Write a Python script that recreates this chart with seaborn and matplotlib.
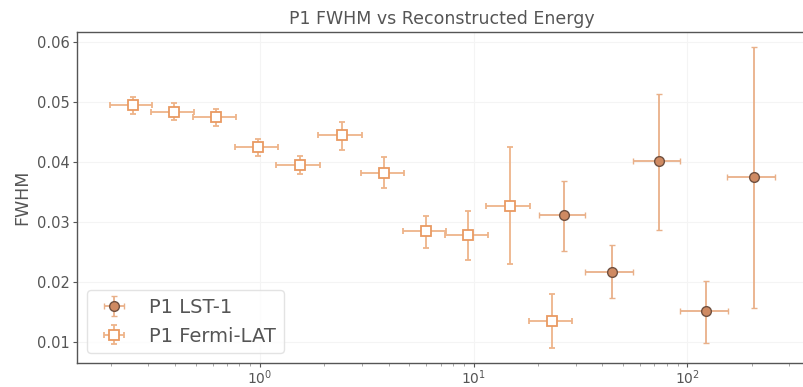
import numpy as np
import pandas as pd
import matplotlib
matplotlib.use("Agg")
import matplotlib.pyplot as plt
import seaborn as sns

# Fermi-LAT
fermi_e = [0.253, 0.395, 0.624, 0.98, 1.54, 2.41, 3.81, 5.99, 9.42, 14.8, 23.2]
fermi_elo = [0.198, 0.309, 0.486, 0.761, 1.19, 1.87, 2.96, 4.66, 7.3, 11.4, 18.1]
fermi_ehi = [0.312, 0.49, 0.772, 1.21, 1.9, 2.99, 4.7, 7.4, 11.6, 18.3, 28.8]
fermi_w = [0.0495, 0.0484, 0.0476, 0.0425, 0.0396, 0.0445, 0.0382, 0.0285, 0.0278, 0.0327, 0.0135]
fermi_wlo = [0.0481, 0.0471, 0.0461, 0.0411, 0.0381, 0.0421, 0.0357, 0.0257, 0.0237, 0.0230, 0.0090]
fermi_whi = [0.0509, 0.0498, 0.0489, 0.0438, 0.0411, 0.0467, 0.0408, 0.0310, 0.0318, 0.0425, 0.0180]

# LST-1
lst_e = [26.4, 44.3, 73.7, 122.7, 204.6]
lst_elo = [20.1, 33.2, 55.5, 92.0, 154.0]
lst_ehi = [33.3, 55.5, 92.4, 154.8, 256.0]
lst_w = [0.0311, 0.0217, 0.0402, 0.0152, 0.0375]
lst_wlo = [0.0251, 0.0174, 0.0286, 0.0098, 0.0156]
lst_whi = [0.0368, 0.0261, 0.0513, 0.0202, 0.0592]

labels = ["P1 LST-1", "P1 Fermi-LAT"]

sns.set_theme(style="whitegrid")
plt.rcParams['font.family'] = ['DejaVu Sans']
txt = "#555555"

fig = plt.figure(figsize=(8.04, 3.87), dpi=100)
ax = fig.add_axes([77/804, 1-363/387, 1.003 - 77/804, (363-32)/387])

def err(v, lo, hi):
    v = np.array(v); return np.vstack([v - np.array(lo), np.array(hi) - v])

ax.errorbar(lst_e, lst_w, xerr=err(lst_e, lst_elo, lst_ehi), yerr=err(lst_w, lst_wlo, lst_whi),
            fmt='o', ms=7, mfc="#cf8a62", mec="#6f5040", mew=1.0, ecolor="#e9b089",
            elinewidth=1.3, capsize=2.5, capthick=1.3, label=labels[0], zorder=3)
ax.errorbar(fermi_e, fermi_w, xerr=err(fermi_e, fermi_elo, fermi_ehi), yerr=err(fermi_w, fermi_wlo, fermi_whi),
            fmt='s', ms=6.5, mfc="white", mec="#e99a62", mew=1.3, ecolor="#eeb48a",
            elinewidth=1.3, capsize=2, capthick=1.3, label=labels[1], zorder=3)

ax.set_xscale('log')
ax.set_xlim(0.139, 360.7)
ax.set_ylim(0.0065, 0.0617)
ax.set_yticks([0.01, 0.02, 0.03, 0.04, 0.05, 0.06])
ax.set_title("P1 FWHM vs Reconstructed Energy", color=txt, fontsize=12.5, pad=6)
ax.set_ylabel("FWHM", color=txt, fontsize=12.5)
ax.grid(True, which='major', color="#f4f4f4", lw=0.8)
ax.set_facecolor("white")
for s in ['left', 'bottom', 'top']:
    ax.spines[s].set_color("#555555")
    ax.spines[s].set_linewidth(1.0)
ax.spines['right'].set_visible(False)
ax.tick_params(axis='y', which='major', colors=txt, labelsize=10.5, length=3, width=0.8,
               left=True, direction='out', pad=2)
ax.tick_params(axis='x', which='major', colors=txt, labelsize=10, length=3, width=0.8,
               bottom=True, direction='out', pad=1)
ax.tick_params(axis='x', which='minor', colors="#999999", length=2, width=0.6, bottom=True)
ax.legend(loc='lower left', fontsize=14, frameon=True, facecolor='white', edgecolor="#dddddd",
          labelcolor=txt, handletextpad=0.8, borderpad=0.4)

fig.savefig("out.png", dpi=100)
